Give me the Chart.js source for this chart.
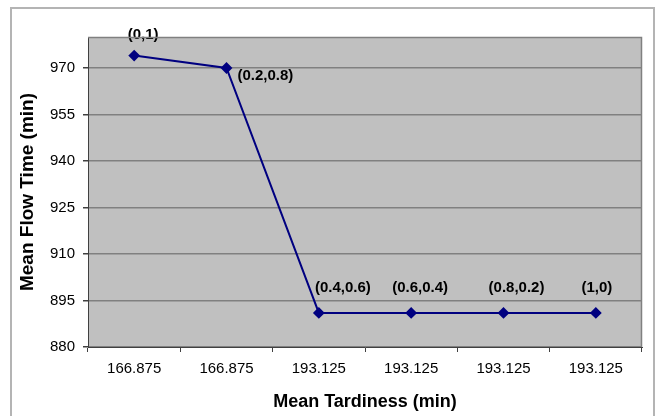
<!DOCTYPE html>
<html>
<head>
<meta charset="utf-8">
<script src="https://cdn.jsdelivr.net/npm/chart.js@4.4.1/dist/chart.umd.min.js"></script>
<style>
  html, body { margin: 0; padding: 0; background: #fff; }
  #wrap { position: relative; width: 657px; height: 416px; overflow: hidden; }
  #frame { position: absolute; left: 10px; top: 7px; width: 645px; height: 430px;
           border: 2px solid #b4b4b4; box-sizing: border-box; }
  #c { position: absolute; left: 0; top: 0; }
</style>
</head>
<body>
<div id="wrap">
  <div id="frame"></div>
  <canvas id="c" width="657" height="416"></canvas>
</div>
<script>
// ---- data ----
const categories = ['166.875', '166.875', '193.125', '193.125', '193.125', '193.125'];
const flowTime = [974, 970, 891, 891, 891, 891];
const pointLabels = ['(0,1)', '(0.2,0.8)', '(0.4,0.6)', '(0.6,0.4)', '(0.8,0.2)', '(1,0)'];
const yTicks = [880, 895, 910, 925, 940, 955, 970];
const yMin = 880;
const yMax = 980;

const FONT = "'Liberation Sans', Arial, sans-serif";

const plotBg = {
  id: 'plotBg',
  beforeDraw(chart) {
    const {ctx, chartArea: a} = chart;
    ctx.save();
    ctx.fillStyle = '#c0c0c0';
    ctx.fillRect(a.left, a.top, a.right - a.left, a.bottom - a.top);
    ctx.restore();
  },
  afterDraw(chart) {
    const {ctx, chartArea: a} = chart;
    ctx.save();
    ctx.strokeStyle = '#808080';
    ctx.lineWidth = 1.5;
    ctx.beginPath();
    ctx.moveTo(a.left, a.top + 0.5);
    ctx.lineTo(a.right - 0.5, a.top + 0.5);
    ctx.lineTo(a.right - 0.5, a.bottom);
    ctx.stroke();
    ctx.restore();
  }
};

// label placement style (pixel offsets from each point, as placed in the original)
const labelStyle = [
  { align: 'center', dx: 9, dy: -21 },
  { align: 'left', dx: 11, dy: 8 },
  { align: 'center', dx: 24, dy: -25 },
  { align: 'center', dx: 9, dy: -25 },
  { align: 'center', dx: 13, dy: -25 },
  { align: 'center', dx: 1, dy: -25 }
];

const labelPlugin = {
  id: 'pointLabelsPlugin',
  afterDatasetsDraw(chart) {
    const {ctx} = chart;
    const meta = chart.getDatasetMeta(0);
    ctx.save();
    ctx.font = 'bold 15px ' + FONT;
    ctx.fillStyle = '#000';
    ctx.textBaseline = 'middle';
    meta.data.forEach((pt, i) => {
      const st = labelStyle[i];
      ctx.textAlign = st.align;
      ctx.fillText(pointLabels[i], pt.x + st.dx, pt.y + st.dy);
    });
    ctx.restore();
  }
};

new Chart(document.getElementById('c'), {
  type: 'line',
  data: {
    labels: categories,
    datasets: [{
      data: flowTime,
      borderColor: '#000080',
      backgroundColor: '#000080',
      borderWidth: 2,
      pointStyle: 'rectRot',
      pointRadius: 4.5,
      pointBackgroundColor: '#000080',
      pointBorderColor: '#000080',
      tension: 0,
      fill: false
    }]
  },
  options: {
    responsive: false,
    animation: false,
    devicePixelRatio: 1,
    layout: { padding: { left: 12, top: 37, right: 15, bottom: 0 } },
    plugins: { legend: { display: false }, tooltip: { enabled: false } },
    scales: {
      x: {
        type: 'category',
        offset: true,
        grid: { display: true, drawOnChartArea: false, offset: true, tickLength: 5, color: '#404040' },
        border: { display: true, color: '#404040', width: 1 },
        ticks: { font: { family: FONT, size: 15 }, color: '#000', padding: 8, maxRotation: 0, autoSkip: false },
        title: { display: true, text: 'Mean Tardiness (min)', font: { family: FONT, size: 18, weight: 'bold' }, color: '#000', padding: { top: 2, bottom: 3 } },
        afterFit(s) { s.height = 69; }
      },
      y: {
        min: yMin,
        max: yMax,
        afterBuildTicks(s) { s.ticks = yTicks.map(v => ({ value: v })); },
        grid: { color: '#808080', lineWidth: 1.5, tickLength: 5, tickColor: '#404040' },
        border: { display: true, color: '#404040', width: 1 },
        ticks: { font: { family: FONT, size: 15 }, color: '#000', padding: 8 },
        title: { display: true, text: 'Mean Flow Time (min)', font: { family: FONT, size: 19, weight: 'bold' }, color: '#000', padding: { top: 4, bottom: 4 } },
        afterFit(s) { s.width = 76; }
      }
    }
  },
  plugins: [plotBg, labelPlugin]
});
</script>
</body>
</html>
